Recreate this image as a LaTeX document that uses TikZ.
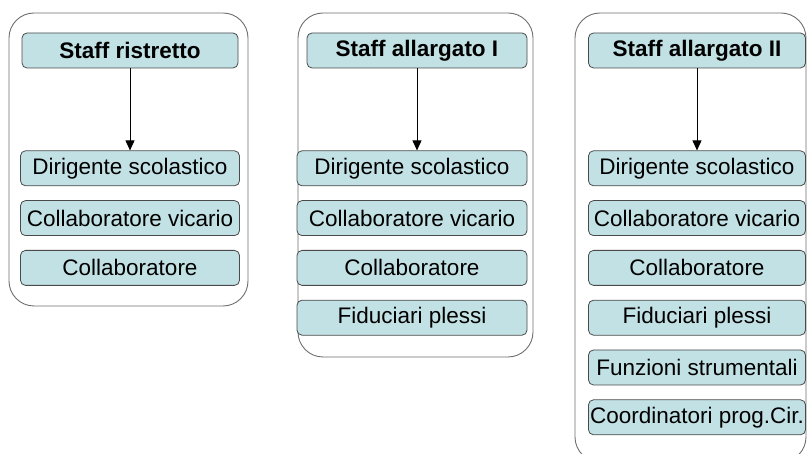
\documentclass[tikz,border=0pt]{standalone}
\usepackage{fontspec}
\setmainfont{Liberation Sans}
\usepackage{tikz}
\usetikzlibrary{arrows,arrows.meta,positioning}

\definecolor{boxfill}{HTML}{C2E1E5}
\definecolor{boxline}{HTML}{4A4A4A}

\tikzset{
  panel/.style={draw=boxline!80, fill=white, rounded corners=25pt, line width=0.9pt},
  staff/.style={draw=boxline, fill=boxfill, rounded corners=5pt, line width=0.8pt,
    minimum height=35pt, inner sep=0pt, font=\fontsize{22.5}{27}\selectfont\bfseries},
  role/.style={staff, font=\fontsize{22.5}{27}\selectfont},
}

\begin{document}
\begin{tikzpicture}[x=1pt, y=-1pt, node distance=14pt]
  \useasboundingbox (0,0) rectangle (807,454);
  \clip (0,0) rectangle (807,454);

  % outer panels
  \draw[panel] (9,13) rectangle (248,306);
  \draw[panel] (298,13) rectangle (533,357);
  \draw[panel] (575,13) rectangle (806,462);

  % staff ristretto
  \node[staff, minimum width=216pt] (h1) at (130,50.5) {Staff ristretto};
  \node[role, minimum width=219pt, below=82pt of h1] (d1) {Dirigente scolastico};
  \node[role, minimum width=219pt, below=of d1] (v1) {Collaboratore vicario};
  \node[role, minimum width=219pt, below=of v1] (c1) {Collaboratore};

  % staff allargato I
  \node[staff, minimum width=220pt] (h2) at (417,50.5) {Staff allargato I};
  \node[role, minimum width=230pt, below=82pt of h2, xshift=-5pt] (d2) {Dirigente scolastico};
  \node[role, minimum width=230pt, below=of d2] (v2) {Collaboratore vicario};
  \node[role, minimum width=230pt, below=of v2] (c2) {Collaboratore};
  \node[role, minimum width=230pt, below=of c2] (f2) {Fiduciari plessi};

  % staff allargato II
  \node[staff, minimum width=217pt] (h3) at (697,50.5) {Staff allargato II};
  \node[role, minimum width=217pt, below=82pt of h3] (d3) {Dirigente scolastico};
  \node[role, minimum width=217pt, below=of d3] (v3) {Collaboratore vicario};
  \node[role, minimum width=217pt, below=of v3] (c3) {Collaboratore};
  \node[role, minimum width=217pt, below=of c3] (f3) {Fiduciari plessi};
  \node[role, minimum width=217pt, below=of f3] (s3) {Funzioni strumentali};
  \node[role, minimum width=217pt, below=of s3] (p3) {Coordinatori prog.Cir.};

  \path[-{Triangle[width=9pt,length=10pt]}, line width=0.9pt]
  (h1) edge (h1 |- d1.north)
  (h2) edge (h2 |- d2.north)
  (h3) edge (h3 |- d3.north)
  ;
\end{tikzpicture}
\end{document}
